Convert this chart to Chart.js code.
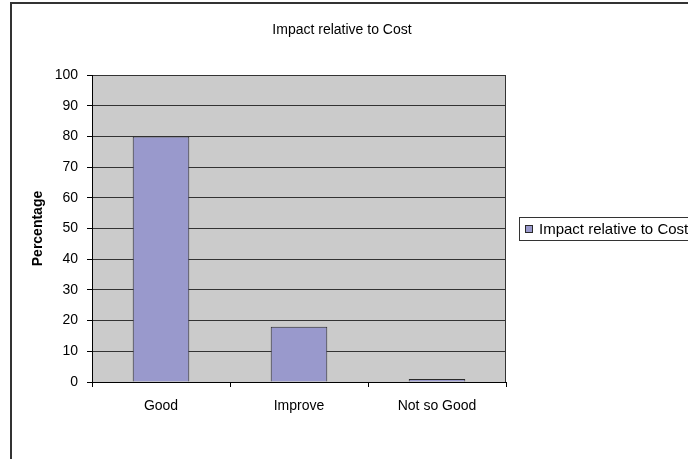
<!DOCTYPE html>
<html>
<head>
<meta charset="utf-8">
<script src="https://cdn.jsdelivr.net/npm/chart.js@4/dist/chart.umd.min.js"></script>
<style>
  html, body { margin: 0; padding: 0; background: #ffffff; }
  #wrap { width: 688px; height: 459px; }
</style>
</head>
<body>
<div id="wrap"><canvas id="chart" width="688" height="459"></canvas></div>
<script>
// Survey result: share of answers per rating
const chartTitle = 'Impact relative to Cost';
const seriesLabel = 'Impact relative to Cost';
const categories = ['Good', 'Improve', 'Not so Good'];
const impactValues = [80, 18, 1];
const yAxisTitle = 'Percentage';
const yMin = 0;
const yMax = 100;
const yStep = 10;

const FONT = '"Liberation Sans", Arial, sans-serif';
const BAR_FILL = '#9999cc';
const BAR_EDGE = '#2a2a2a';
const PLOT_FILL = '#cbcbcb';
const LINE_DARK = '#333333';

// Outer frame, plot background and the right edge of the plot
const framePlugin = {
  id: 'frame',
  beforeDraw(chart) {
    const { ctx, chartArea: a } = chart;
    ctx.save();
    ctx.fillStyle = '#ffffff';
    ctx.fillRect(0, 0, chart.width, chart.height);
    ctx.fillStyle = PLOT_FILL;
    ctx.fillRect(a.left, a.top, a.right - a.left, a.bottom - a.top);
    ctx.strokeStyle = '#333333';
    ctx.lineWidth = 2;
    ctx.beginPath();
    ctx.moveTo(11, chart.height + 2);
    ctx.lineTo(11, 3);
    ctx.lineTo(chart.width + 2, 3);
    ctx.stroke();
    ctx.restore();
  },
  afterDatasetsDraw(chart) {
    const { ctx, chartArea: a } = chart;
    ctx.save();
    ctx.strokeStyle = LINE_DARK;
    ctx.lineWidth = 1;
    ctx.beginPath();
    ctx.moveTo(Math.round(a.right) - 0.5, a.top);
    ctx.lineTo(Math.round(a.right) - 0.5, a.bottom);
    ctx.stroke();
    ctx.restore();
  }
};

// Chart heading and the boxed series key on the right
const headerLegendPlugin = {
  id: 'headerLegend',
  afterDraw(chart) {
    const { ctx, chartArea: a } = chart;
    ctx.save();
    ctx.fillStyle = '#000000';
    ctx.font = '14px ' + FONT;
    ctx.textAlign = 'center';
    ctx.textBaseline = 'middle';
    ctx.fillText(chartTitle, 342, 30);

    const midY = (a.top + a.bottom) / 2;
    const boxX = 519.5, boxY = Math.round(midY - 12) + 0.5, boxH = 23;
    ctx.strokeStyle = LINE_DARK;
    ctx.lineWidth = 1;
    ctx.strokeRect(boxX, boxY, 200, boxH);
    ctx.fillStyle = BAR_FILL;
    ctx.fillRect(525.5, boxY + 8, 7, 7);
    ctx.strokeStyle = BAR_EDGE;
    ctx.strokeRect(525.5, boxY + 8, 7, 7);
    ctx.fillStyle = '#000000';
    ctx.font = '15px ' + FONT;
    ctx.textAlign = 'left';
    ctx.textBaseline = 'middle';
    ctx.fillText(chart.data.datasets[0].label, 539, boxY + boxH / 2 + 1);
    ctx.restore();
  }
};

new Chart(document.getElementById('chart'), {
  type: 'bar',
  data: {
    labels: categories,
    datasets: [{
      label: seriesLabel,
      data: impactValues,
      backgroundColor: BAR_FILL,
      borderColor: BAR_EDGE,
      borderWidth: 1,
      barPercentage: 0.41,
      categoryPercentage: 1.0
    }]
  },
  options: {
    responsive: false,
    devicePixelRatio: 1,
    animation: false,
    layout: { padding: { left: 0, right: 182, top: 75, bottom: 0 } },
    plugins: {
      legend: { display: false },
      title: { display: false },
      tooltip: { enabled: false }
    },
    scales: {
      x: {
        afterFit(scale) { scale.height = 77; },
        grid: {
          display: true,
          drawOnChartArea: false,
          drawTicks: true,
          tickLength: 5,
          offset: true,
          color: '#000000',
          tickColor: '#000000'
        },
        border: { display: true, color: '#000000', width: 1 },
        ticks: {
          color: '#000000',
          font: { family: FONT, size: 14 },
          padding: 11,
          maxRotation: 0
        }
      },
      y: {
        min: yMin,
        max: yMax,
        afterFit(scale) { scale.width = 92; },
        grid: {
          color: LINE_DARK,
          tickColor: '#000000',
          drawTicks: true,
          tickLength: 5
        },
        border: { display: true, color: '#000000', width: 1 },
        ticks: {
          stepSize: yStep,
          color: '#000000',
          font: { family: FONT, size: 14 },
          padding: 9
        },
        title: {
          display: true,
          text: yAxisTitle,
          color: '#000000',
          font: { family: FONT, size: 14, weight: 'bold' },
          padding: { top: 30, bottom: 0 }
        }
      }
    }
  },
  plugins: [framePlugin, headerLegendPlugin]
});
</script>
</body>
</html>
